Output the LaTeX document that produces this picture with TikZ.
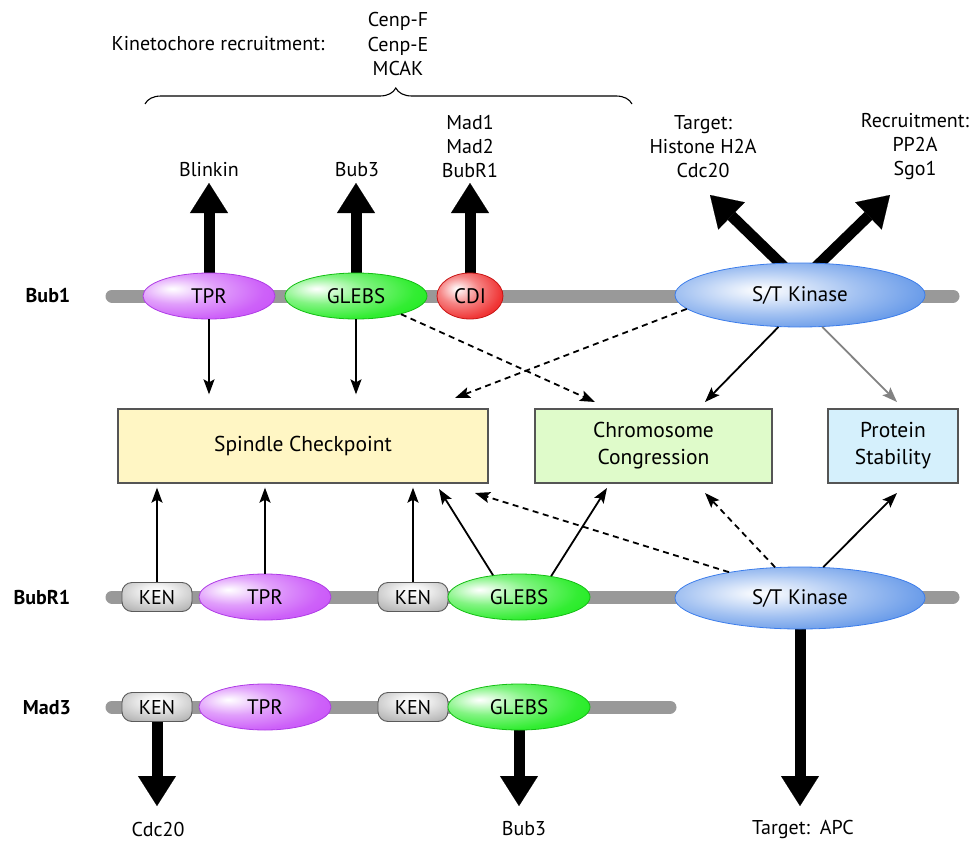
\documentclass[tikz,border=0pt]{standalone}
\usepackage{fontspec}
\setmainfont{PT Sans}
\usetikzlibrary{arrows.meta,shapes.geometric,decorations.pathreplacing,calc,backgrounds}

\definecolor{tprc}{RGB}{200,80,248}
\definecolor{tprb}{RGB}{175,60,230}
\definecolor{glebsc}{RGB}{28,235,28}
\definecolor{glebsb}{RGB}{20,190,20}
\definecolor{cdic}{RGB}{238,32,32}
\definecolor{cdib}{RGB}{200,20,20}
\definecolor{kinc}{RGB}{70,132,228}
\definecolor{kinb}{RGB}{60,125,235}
\definecolor{kenc}{RGB}{145,145,145}
\definecolor{kenb}{RGB}{90,90,90}
\definecolor{bbc}{RGB}{153,153,153}
\definecolor{spfill}{RGB}{255,246,196}
\definecolor{chfill}{RGB}{223,251,202}
\definecolor{prfill}{RGB}{213,240,252}
\definecolor{boxb}{RGB}{85,85,85}
\definecolor{arrgray}{RGB}{130,130,130}

\pgfdeclareradialshading{tprshade}{\pgfpoint{-14bp}{8bp}}{color(0bp)=(white); color(3bp)=(white!90!tprc); color(15bp)=(tprc!55!white); color(30bp)=(tprc!90!white); color(40bp)=(tprc); color(90bp)=(tprc)}
\pgfdeclareradialshading{glebsshade}{\pgfpoint{-14bp}{8bp}}{color(0bp)=(white); color(3bp)=(white!90!glebsc); color(15bp)=(glebsc!55!white); color(30bp)=(glebsc!90!white); color(40bp)=(glebsc); color(90bp)=(glebsc)}
\pgfdeclareradialshading{cdishade}{\pgfpoint{-10bp}{8bp}}{color(0bp)=(white); color(3bp)=(white!90!cdic); color(15bp)=(cdic!55!white); color(30bp)=(cdic!90!white); color(40bp)=(cdic); color(90bp)=(cdic)}
\pgfdeclareradialshading{kinshade}{\pgfpoint{-8bp}{4bp}}{color(0bp)=(white); color(3bp)=(white!92!kinc); color(18bp)=(kinc!50!white); color(34bp)=(kinc!90!white); color(42bp)=(kinc); color(90bp)=(kinc)}
\pgfdeclareradialshading{kenshade}{\pgfpoint{0bp}{12bp}}{color(0bp)=(white); color(10bp)=(white!88!kenc); color(32bp)=(kenc!60!white); color(48bp)=(kenc); color(90bp)=(kenc)}

\begin{document}
\begin{tikzpicture}[x=1pt,y=-1pt,
  font=\fontsize{20}{24}\selectfont,
  dom/.style={ellipse, inner sep=0pt, minimum height=46pt, line width=0.8pt, font=\fontsize{21}{24}\selectfont},
  tprst/.style={dom, minimum width=132pt, shading=tprshade, draw=tprb},
  glebsst/.style={dom, minimum width=142pt, shading=glebsshade, draw=glebsb},
  cdist/.style={dom, minimum width=66pt, shading=cdishade, draw=cdib},
  kinst/.style={dom, minimum width=250pt, minimum height=64pt, shading=kinshade, draw=kinb},
  ken/.style={rectangle, rounded corners=10pt, minimum width=70pt, minimum height=29pt, inner sep=0pt, shading=kenshade, draw=kenb, line width=0.9pt, font=\fontsize{20}{22}\selectfont},
  fbox/.style={rectangle, draw=boxb, line width=1.3pt, minimum height=74pt, inner sep=0pt, align=center, font=\fontsize{21.5}{27}\selectfont},
  lab/.style={align=center, inner sep=0pt},
  rowlab/.style={inner sep=0pt, font=\bfseries\fontsize{20}{24}\selectfont},
  backbone/.style={line width=13pt, line cap=round, draw=bbc},
  bigarrow/.style={line width=11pt, -{Triangle[length=30pt,width=38pt,line width=0.1pt]}, shorten <=-8pt},
  thinarrow/.style={line width=1.8pt, -{Stealth[length=15pt,width=11pt,inset=3pt]}},
  dasharrow/.style={thinarrow, dash pattern=on 6pt off 4.5pt},
  grayarrow/.style={thinarrow, draw=arrgray, fill=arrgray}
]
\useasboundingbox (0,0) rectangle (975,843);

% backbones
\coordinate (b1L) at (112,296); \coordinate (b1R) at (953,296);
\coordinate (b2L) at (112,597); \coordinate (b2R) at (953,597);
\coordinate (b3L) at (112,707); \coordinate (b3R) at (670,707);
\draw[backbone] (b1L) -- (b1R);
\draw[backbone] (b2L) -- (b2R);
\draw[backbone] (b3L) -- (b3R);

% Bub1
\node[tprst] (tpr1) at (209,296) {TPR};
\node[glebsst] (glebs1) at (356,296) {GLEBS};
\node[cdist] (cdi1) at (470,296) {CDI};
\node[kinst] (kin1) at (800,295) {S/T Kinase};

% BubR1
\node[ken] (ken2a) at (157,597) {KEN};
\node[tprst] (tpr2) at (265,597) {TPR};
\node[ken] (ken2b) at (413,597) {KEN};
\node[glebsst] (glebs2) at (519,597) {GLEBS};
\node[kinst, minimum height=62pt] (kin2) at (800,598) {S/T Kinase};

% Mad3
\node[ken] (ken3a) at (157,707) {KEN};
\node[tprst] (tpr3) at (265,707) {TPR};
\node[ken] (ken3b) at (413,707) {KEN};
\node[glebsst] (glebs3) at (519,707) {GLEBS};

% row labels
\node[rowlab] (l1) at (48,296) {Bub1};
\node[rowlab] (l2) at (42,598) {BubR1};
\node[rowlab] (l3) at (47,708) {Mad3};

% function boxes
\node[fbox, fill=spfill, minimum width=370pt] (spindle) at (303,446) {Spindle Checkpoint};
\node[fbox, fill=chfill, minimum width=237pt] (chromo) at (653.5,446) {Chromosome\\Congression};
\node[fbox, fill=prfill, minimum width=130pt] (protein) at (893,446) {Protein\\Stability};

% top labels
\node[lab] (kinrec) at (218,44) {Kinetochore recruitment:};
\node[lab] (cenp) at (398,44) {Cenp-F\\Cenp-E\\MCAK};
\coordinate (brL) at (145,104); \coordinate (brR) at (632,104);
\draw[decorate, decoration={brace, amplitude=16pt, aspect=0.515}, line width=1.1pt] (brL) -- (brR);

\node[lab] (blinkin) at (209,170) {Blinkin};
\node[lab] (bub3a) at (357,170) {Bub3};
\node[lab] (madl) at (470,146) {Mad1\\Mad2\\BubR1};
\node[lab] (target) at (703,147) {Target:\\Histone H2A\\Cdc20};
\node[lab] (recruit) at (915,147) {Recruitment:\\PP2A\\Sgo1};

% bottom labels
\node[lab] (cdc) at (158,829) {Cdc20};
\node[lab] (bub3b) at (524,829) {Bub3};
\node[lab] (apc) at (803,829) {Target:\enspace APC};

% tip coordinates
\coordinate (tBl) at (209,183);
\coordinate (tB3) at (356,183);
\coordinate (tMad) at (470,183);
\coordinate (tTg) at (710,195);
\coordinate (tRc) at (890,195);
\coordinate (tCdc) at (157,806);
\coordinate (tBub3) at (519,806);
\coordinate (tApc) at (800,806);

\coordinate (tA) at (595,402);
\coordinate (tB) at (455,398);
\coordinate (tC) at (705,402);
\coordinate (tD) at (897,402);
\coordinate (tE) at (439,489);
\coordinate (tF) at (607,488);
\coordinate (tG) at (475,493);
\coordinate (tH) at (705,493);
\coordinate (tI) at (897,493);

% thick arrows
\begin{scope}[on background layer]
\draw[bigarrow] (tpr1.north) -- (tBl);
\draw[bigarrow] (glebs1.north) -- (tB3);
\draw[bigarrow] (cdi1.north) -- (tMad);
\draw[bigarrow] (kin1.122) -- (tTg);
\draw[bigarrow] (kin1.58) -- (tRc);
\draw[bigarrow] (kin2.south) -- (tApc);
\draw[bigarrow] (ken3a.south) -- (tCdc);
\draw[bigarrow] (glebs3.south) -- (tBub3);
\end{scope}

% Bub1 thin arrows
\draw[thinarrow, shorten >=14pt] (tpr1.south) -- (tpr1.south |- spindle.north);
\draw[thinarrow, shorten >=14pt] (glebs1.south) -- (glebs1.south |- spindle.north);
\draw[dasharrow] (glebs1.-22) -- (tA);
\draw[dasharrow] (kin1.187) -- (tB);
\draw[thinarrow] (kin1.236) -- (tC);
\draw[grayarrow] (kin1.305) -- (tD);

% BubR1 thin arrows
\draw[thinarrow, shorten >=4pt] (ken2a.north) -- (ken2a.north |- spindle.south);
\draw[thinarrow, shorten >=4pt] (tpr2.north) -- (tpr2.north |- spindle.south);
\draw[thinarrow, shorten >=4pt] (ken2b.north) -- (ken2b.north |- spindle.south);
\draw[thinarrow] (glebs2.140) -- (tE);
\draw[thinarrow] (glebs2.33) -- (tF);
\draw[dasharrow] (kin2.160) -- (tG);
\draw[dasharrow] (kin2.129) -- (tH);
\draw[thinarrow] (kin2.53) -- (tI);
\end{tikzpicture}
\end{document}
